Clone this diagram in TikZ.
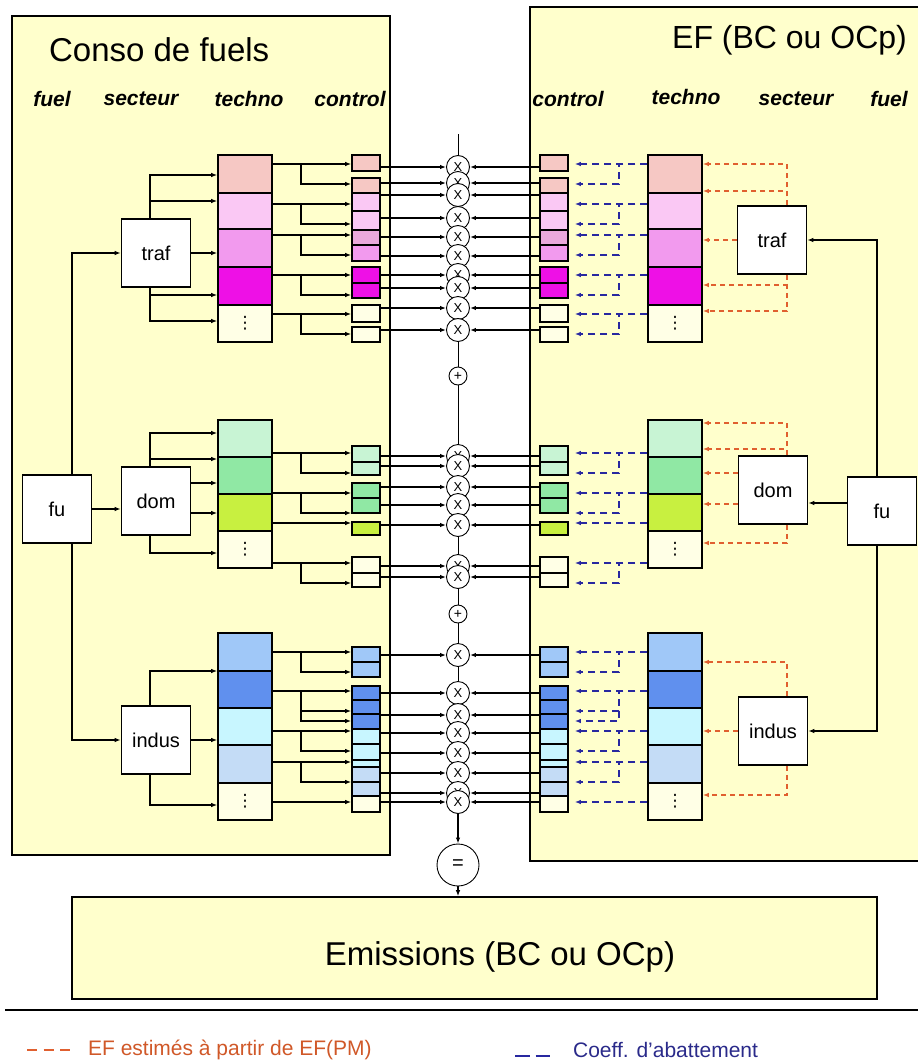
\documentclass[tikz,border=0pt]{standalone}
\usepackage{fontspec}
\setmainfont{Liberation Sans}
\newfontfamily\symfont{DejaVu Sans}
\usetikzlibrary{arrows.meta,backgrounds}

\definecolor{panel}{HTML}{FFFFCC}
\definecolor{ivory}{HTML}{FFFFE6}
\definecolor{peach}{HTML}{F6C8C4}
\definecolor{lpink}{HTML}{FAC8F4}
\definecolor{mauve}{HTML}{EAA8DC}
\definecolor{pinkB}{HTML}{F29AEE}
\definecolor{magen}{HTML}{EE10E6}
\definecolor{mint}{HTML}{C8F4D4}
\definecolor{lgreen}{HTML}{90E8A4}
\definecolor{ygreen}{HTML}{C8F040}
\definecolor{lblue}{HTML}{A0C8F8}
\definecolor{mblue}{HTML}{6090EE}
\definecolor{pcyan}{HTML}{C8F6FF}
\definecolor{pblue}{HTML}{C4DCF6}
\definecolor{efcol}{HTML}{E06030}
\definecolor{abcol}{HTML}{2828A0}
\definecolor{eftext}{HTML}{D05828}
\definecolor{abtext}{HTML}{2A2A8A}

\newcommand{\vdotz}{{\symfont ⋮}}

\begin{document}
\begin{tikzpicture}[x=1pt,y=-1pt,line width=1.6pt,>={Latex[length=6pt,width=4.5pt]},
    sector/.style={draw,fill=white,minimum width=69,minimum height=68,inner sep=0pt,font=\fontsize{20}{24}\selectfont},
    techno/.style={draw,minimum width=54,inner sep=0pt,font=\fontsize{17}{17}\selectfont},
    ctrl/.style={draw,minimum width=28,inner sep=0pt},
    mult/.style={circle,draw,fill=white,minimum size=23,inner sep=0pt,line width=0.9pt,font=\fontsize{13}{13}\selectfont},
    head/.style={font=\fontsize{21}{24}\selectfont\bfseries\itshape},
    efdash/.style={efcol,line width=1.2pt,dash pattern=on 5pt off 4pt},
    abdash/.style={abcol,line width=1.5pt,dash pattern=on 7pt off 5pt,shorten >=6pt}]
\useasboundingbox (0,0) rectangle (918,1063);

% panneaux
\draw[fill=panel] (12,16) rectangle (390,855);
\draw[fill=panel] (530,7) rectangle (940,861);
\node[anchor=west,font=\fontsize{33}{36}\selectfont] (titleL) at (45,50) {Conso de fuels};
\node[anchor=east,font=\fontsize{32}{36}\selectfont] (titleR) at (911,40) {EF (BC ou OCp)};
\foreach \x/\y/\txt [count=\i] in {52/99/fuel,141/99/secteur,249/99/techno,350/99/control,
    568/99/control,686/97/techno,796/99/secteur,889/99/fuel}
  \node[head] (head\i) at (\x,\y) {\txt};

% secteurs
\node[sector] (fuL) at (57,509) {fu};
\node[sector] (trafL) at (156,253) {traf};
\node[sector] (domL) at (156,501) {dom};
\node[sector] (indusL) at (156,740) {indus};
\node[sector] (trafR) at (772,240) {traf};
\node[sector] (domR) at (773,490) {dom};
\node[sector] (indusR) at (773,731) {indus};
\node[sector] (fuR) at (882,511) {fu};

% traf
\foreach \ytop/\ybot/\col [count=\i] in {155/193/peach,193/229/lpink,229/267/pinkB,267/305/magen,305/342/ivory}{
  \node[techno,fill=\col,minimum height=\ybot-\ytop] (tl-traf-\i) at (245,{(\ytop+\ybot)/2}) {\ifnum\i=5 \vdotz\fi};
  \node[techno,fill=\col,minimum height=\ybot-\ytop] (tr-traf-\i) at (675,{(\ytop+\ybot)/2}) {\ifnum\i=5 \vdotz\fi};
}
\foreach \ytop/\ybot/\col [count=\i] in {155/171/peach,178/193/peach,193/211/lpink,211/230/lpink,230/245/mauve,
    245/261/pinkB,267/283/magen,283/298/magen,305/322/ivory,327/342/ivory}{
  \node[ctrl,fill=\col,minimum height=\ybot-\ytop] (cl-traf-\i) at (366,{(\ytop+\ybot)/2}) {};
  \node[ctrl,fill=\col,minimum height=\ybot-\ytop] (cr-traf-\i) at (554,{(\ytop+\ybot)/2}) {};
}
\foreach \s/\ya/\y/\kb in {1/164/164/1,1/164/184/2,2/204/204/3,2/204/224/4,3/235/235/5,
    3/235/255/6,4/275/275/7,4/275/295/8,5/314/314/9,5/314/334/10}{
  \draw[->] (tl-traf-\s.east |- 0,\ya) -- ++(28,0) |- (cl-traf-\kb.west |- 0,\y);
  \draw[abdash,->] (tr-traf-\s.west |- 0,\ya) -- ++(-28,0) |- (cr-traf-\kb.east |- 0,\y);
}
\foreach \y [count=\i] in {167,183,195,218,237,256,275,288,308,330}
  \node[mult] (x-traf-\i) at (458,\y) {X};
\foreach \i in {1,...,10}{
  \draw[->] (x-traf-\i -| cl-traf-\i.east) -- (x-traf-\i);
  \draw[->] (x-traf-\i -| cr-traf-\i.west) -- (x-traf-\i);
}
\foreach \y in {175,201} \draw[->] (trafL.north -| 150,0) |- (tl-traf-1.west |- 0,\y);
\draw[->] (trafL) -- (trafL -| tl-traf-1.west);
\foreach \y in {295,321} \draw[->] (trafL.south -| 150,0) |- (tl-traf-1.west |- 0,\y);
\foreach \y in {164,191} \draw[efdash,->] (trafR.north -| 787,0) |- (tr-traf-1.east |- 0,\y);
\draw[efdash,->] (trafR) -- (trafR -| tr-traf-1.east);
\foreach \y in {285,311} \draw[efdash,->] (trafR.south -| 787,0) |- (tr-traf-1.east |- 0,\y);

% dom
\foreach \ytop/\ybot/\col [count=\i] in {420/457/mint,457/494/lgreen,494/531/ygreen,531/568/ivory}{
  \node[techno,fill=\col,minimum height=\ybot-\ytop] (tl-dom-\i) at (245,{(\ytop+\ybot)/2}) {\ifnum\i=4 \vdotz\fi};
  \node[techno,fill=\col,minimum height=\ybot-\ytop] (tr-dom-\i) at (675,{(\ytop+\ybot)/2}) {\ifnum\i=4 \vdotz\fi};
}
\foreach \ytop/\ybot/\col [count=\i] in {446/462/mint,462/475/mint,483/498/lgreen,498/513/lgreen,
    522/535/ygreen,557/573/ivory,573/587/ivory}{
  \node[ctrl,fill=\col,minimum height=\ybot-\ytop] (cl-dom-\i) at (366,{(\ytop+\ybot)/2}) {};
  \node[ctrl,fill=\col,minimum height=\ybot-\ytop] (cr-dom-\i) at (554,{(\ytop+\ybot)/2}) {};
}
\foreach \s/\ya/\y/\kb in {1/453/453/1,1/453/473/2,2/493/493/3,2/493/513/4,3/523/523/5,4/563/563/6,4/563/583/7}{
  \draw[->] (tl-dom-\s.east |- 0,\ya) -- ++(28,0) |- (cl-dom-\kb.west |- 0,\y);
  \draw[abdash,->] (tr-dom-\s.west |- 0,\ya) -- ++(-28,0) |- (cr-dom-\kb.east |- 0,\y);
}
\foreach \y [count=\i] in {456,466,487,505,525,566,577}
  \node[mult] (x-dom-\i) at (458,\y) {X};
\foreach \i in {1,...,7}{
  \draw[->] (x-dom-\i -| cl-dom-\i.east) -- (x-dom-\i);
  \draw[->] (x-dom-\i -| cr-dom-\i.west) -- (x-dom-\i);
}
\foreach \y in {433,459} \draw[->] (domL.north -| 150,0) |- (tl-dom-1.west |- 0,\y);
\foreach \y in {483,513} \draw[->] (domL.east |- 0,\y) -- (tl-dom-1.west |- 0,\y);
\draw[->] (domL.south -| 150,0) |- (tl-dom-1.west |- 0,553);
\foreach \y in {423,449} \draw[efdash,->] (domR.north -| 787,0) |- (tr-dom-1.east |- 0,\y);
\foreach \y in {473,504} \draw[efdash,->] (domR.west |- 0,\y) -- (tr-dom-1.east |- 0,\y);
\draw[efdash,->] (domR.south -| 787,0) |- (tr-dom-1.east |- 0,543);

% indus
\foreach \ytop/\ybot/\col [count=\i] in {633/671/lblue,671/708/mblue,708/745/pcyan,745/783/pblue,783/820/ivory}{
  \node[techno,fill=\col,minimum height=\ybot-\ytop] (tl-indus-\i) at (245,{(\ytop+\ybot)/2}) {\ifnum\i=5 \vdotz\fi};
  \node[techno,fill=\col,minimum height=\ybot-\ytop] (tr-indus-\i) at (675,{(\ytop+\ybot)/2}) {\ifnum\i=5 \vdotz\fi};
}
\foreach \ytop/\ybot/\col [count=\i] in {647/662/lblue,662/677/lblue,686/700/mblue,700/714/mblue,714/729/mblue,
    729/744/pcyan,744/760/pcyan,760/767/pcyan,767/782/pblue,782/796/pblue,796/812/ivory}{
  \node[ctrl,fill=\col,minimum height=\ybot-\ytop] (cl-indus-\i) at (366,{(\ytop+\ybot)/2}) {};
  \node[ctrl,fill=\col,minimum height=\ybot-\ytop] (cr-indus-\i) at (554,{(\ytop+\ybot)/2}) {};
}
\foreach \s/\ya/\y/\kb in {1/652/652/1,1/652/672/2,2/691/691/3,2/691/711/4,2/691/721/5,
    3/731/731/6,3/731/751/7,4/762/762/8,4/762/782/9,5/802/802/11}{
  \draw[->] (tl-indus-\s.east |- 0,\ya) -- ++(28,0) |- (cl-indus-\kb.west |- 0,\y);
  \draw[abdash,->] (tr-indus-\s.west |- 0,\ya) -- ++(-28,0) |- (cr-indus-\kb.east |- 0,\y);
}
\foreach \y [count=\i] in {655,693,715,733,753,773,793,802}
  \node[mult] (x-indus-\i) at (458,\y) {X};
\foreach \i/\kb in {1/1,2/3,3/5,4/6,5/7,6/9,7/10,8/11}{
  \draw[->] (x-indus-\i -| cl-indus-\kb.east) -- (x-indus-\i);
  \draw[->] (x-indus-\i -| cr-indus-\kb.west) -- (x-indus-\i);
}
\draw[->] (indusL.north -| 150,0) |- (tl-indus-1.west |- 0,671);
\draw[->] (indusL) -- (indusL -| tl-indus-1.west);
\draw[->] (indusL.south -| 150,0) |- (tl-indus-1.west |- 0,805);
\draw[efdash,->] (indusR.north -| 787,0) |- (tr-indus-1.east |- 0,662);
\draw[efdash,->] (indusR) -- (indusR -| tr-indus-1.east);
\draw[efdash,->] (indusR.south -| 787,0) |- (tr-indus-1.east |- 0,795);

% fuel
\draw[->] (fuL.north -| 72,0) |- (trafL);
\draw[->] (fuL.south -| 72,0) |- (indusL);
\draw[->] (fuL.east) -- (fuL.east -| domL.west);
\draw[->] (fuR.north -| 877,0) |- (trafR);
\draw[->] (fuR.south -| 877,0) |- (indusR);
\draw[->] (fuR.west |- 0,503) -- (domR.east |- 0,503);

% somme
\coordinate (spinetop) at (458,134);
\node[mult,minimum size=18,font=\fontsize{14}{14}\selectfont] (plus1) at (458,376) {+};
\node[mult,minimum size=18,font=\fontsize{14}{14}\selectfont] (plus2) at (458,614) {+};
\node[mult,minimum size=42,font=\fontsize{20}{20}\selectfont] (eq) at (458,865) {=};
\begin{scope}[on background layer]
  \draw (spinetop) -- (x-indus-8.center);
\end{scope}
\draw[->] (x-indus-8) -- (eq);

\node[draw,fill=panel,minimum width=805,minimum height=102] (emis) at (474.5,948) {};
\node[font=\fontsize{33}{36}\selectfont] (emistxt) at (500,957) {Emissions (BC ou OCp)};
\draw[->] (eq) -- (eq |- emis.north);

% legende
\coordinate (rulel) at (5,1010);
\coordinate (ruler) at (918,1010);
\draw (rulel) -- (ruler);
\draw[efcol,line width=1.2pt,dash pattern=on 10pt off 6.5pt] (27,1050) -- (70,1050);
\node[anchor=west,text=eftext,font=\fontsize{21}{24}\selectfont] (leg1) at (84,1050) {EF estimés à partir de EF(PM)};
\draw[abcol,line width=1.8pt,dash pattern=on 14.5pt off 6pt] (515,1056) -- (550,1056);
\node[anchor=west,text=abtext,font=\fontsize{21}{24}\selectfont] (leg2) at (569,1050) {Coeff. d'abattement};
\end{tikzpicture}
\end{document}
